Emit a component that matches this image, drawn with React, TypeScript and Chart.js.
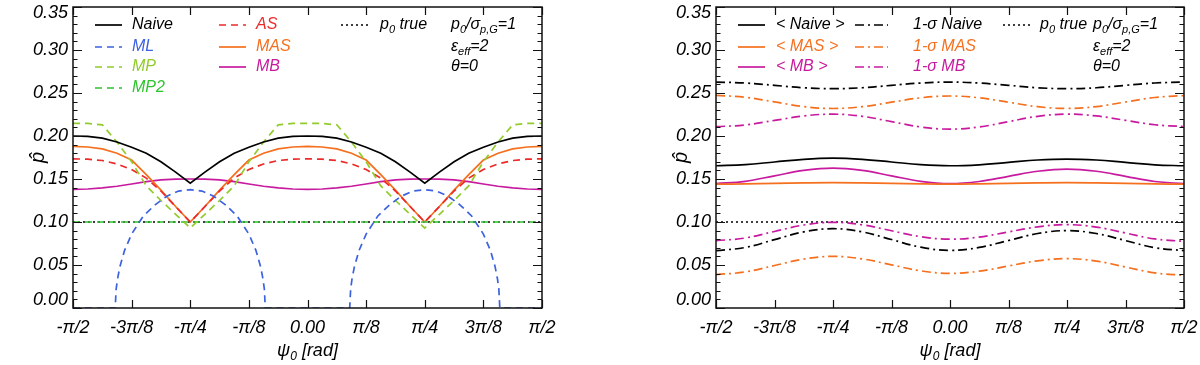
import React, { useEffect, useRef } from "react";
import { Chart, registerables } from "chart.js";
Chart.register(...registerables);

// ---------------- data (x in units of pi) ----------------
const PSI_L = [
  -0.5, -0.46875, -0.4375, -0.40625, -0.375, -0.34375, -0.3125, -0.28125, -0.25,
  -0.21875, -0.1875, -0.15625, -0.125, -0.09375, -0.0625, -0.03125, 0,
  0.03125, 0.0625, 0.09375, 0.125, 0.15625, 0.1875, 0.21875, 0.25,
  0.28125, 0.3125, 0.34375, 0.375, 0.40625, 0.4375, 0.46875, 0.5,
];
const NAIVE_L = [
  0.2, 0.1995, 0.1975, 0.193, 0.187, 0.18, 0.17, 0.158, 0.145,
  0.158, 0.17, 0.18, 0.187, 0.193, 0.1975, 0.1995, 0.2,
  0.1995, 0.1975, 0.193, 0.187, 0.18, 0.17, 0.158, 0.145,
  0.158, 0.17, 0.18, 0.187, 0.193, 0.1975, 0.1995, 0.2,
];
const AS_L = [
  0.1735, 0.173, 0.1715, 0.1675, 0.161, 0.151, 0.136, 0.118, 0.1,
  0.118, 0.136, 0.151, 0.161, 0.1675, 0.1715, 0.173, 0.1735,
  0.173, 0.1715, 0.1675, 0.161, 0.151, 0.136, 0.118, 0.1,
  0.118, 0.136, 0.151, 0.161, 0.1675, 0.1715, 0.173, 0.1735,
];
const MAS_L = [
  0.188, 0.1872, 0.185, 0.18, 0.172, 0.155, 0.137, 0.118, 0.1,
  0.118, 0.137, 0.155, 0.172, 0.18, 0.185, 0.1872, 0.188,
  0.1872, 0.185, 0.18, 0.172, 0.155, 0.137, 0.118, 0.1,
  0.118, 0.137, 0.155, 0.172, 0.18, 0.185, 0.1872, 0.188,
];
const MP_L = [
  0.2146, 0.2146, 0.213, 0.193, 0.17, 0.142, 0.125, 0.109, 0.093,
  0.109, 0.125, 0.142, 0.17, 0.193, 0.213, 0.2146, 0.2146,
  0.2146, 0.213, 0.193, 0.17, 0.142, 0.125, 0.109, 0.093,
  0.109, 0.125, 0.142, 0.17, 0.193, 0.213, 0.2146, 0.2146,
];
const MP2_L = [
  0.1, 0.1, 0.1, 0.1, 0.1, 0.1, 0.1, 0.1, 0.1, 0.1, 0.1, 0.1, 0.1, 0.1, 0.1, 0.1, 0.1,
  0.1, 0.1, 0.1, 0.1, 0.1, 0.1, 0.1, 0.1, 0.1, 0.1, 0.1, 0.1, 0.1, 0.1, 0.1, 0.1,
];
const MB_L = [
  0.138, 0.1384, 0.1396, 0.1416, 0.1442, 0.147, 0.149, 0.1499, 0.15,
  0.1499, 0.149, 0.147, 0.1442, 0.1416, 0.1396, 0.1384, 0.138,
  0.1384, 0.1396, 0.1416, 0.1442, 0.147, 0.149, 0.1499, 0.15,
  0.1499, 0.149, 0.147, 0.1442, 0.1416, 0.1396, 0.1384, 0.138,
];
const ML_PSI = [
  -0.5, -0.41, -0.408, -0.405, -0.4, -0.39, -0.375, -0.35, -0.325, -0.3, -0.275, -0.25,
  -0.225, -0.2, -0.175, -0.15, -0.125, -0.11, -0.1, -0.095, -0.092, -0.09,
  0.09, 0.092, 0.095, 0.1, 0.11, 0.125, 0.15, 0.175, 0.2, 0.225, 0.25,
  0.275, 0.3, 0.325, 0.35, 0.375, 0.39, 0.4, 0.405, 0.408, 0.41, 0.5,
];
const ML_L = [
  0, 0, 0.022, 0.034, 0.048, 0.067, 0.086, 0.107, 0.12, 0.13, 0.136, 0.1376,
  0.136, 0.13, 0.12, 0.107, 0.086, 0.067, 0.048, 0.034, 0.022, 0,
  0, 0.022, 0.034, 0.048, 0.067, 0.086, 0.107, 0.12, 0.13, 0.136, 0.1376,
  0.136, 0.13, 0.12, 0.107, 0.086, 0.067, 0.048, 0.034, 0.022, 0, 0,
];
const P0_TRUE = [0.1, 0.1];
const P0_PSI = [-0.5, 0.5];

const PSI_R = [
  -0.5, -0.4375, -0.375, -0.3125, -0.25, -0.1875, -0.125, -0.0625, 0,
  0.0625, 0.125, 0.1875, 0.25, 0.3125, 0.375, 0.4375, 0.5,
];
const MEAN_NAIVE_R = [
  0.1654, 0.1667, 0.1698, 0.1729, 0.1742, 0.1729, 0.1698, 0.1667, 0.1654,
  0.1665, 0.1693, 0.1721, 0.1732, 0.1721, 0.1693, 0.1665, 0.1654,
];
const MEAN_MAS_R = [
  0.144, 0.1443, 0.1449, 0.1455, 0.1458, 0.1455, 0.1449, 0.1443, 0.144,
  0.1443, 0.1449, 0.1455, 0.1458, 0.1455, 0.1449, 0.1443, 0.144,
];
const MEAN_MB_R = [
  0.1446, 0.1473, 0.1537, 0.16, 0.1627, 0.16, 0.1537, 0.1473, 0.1446,
  0.1471, 0.1531, 0.159, 0.1615, 0.159, 0.1531, 0.1471, 0.1446,
];
const SIG_NAIVE_HI = [
  0.2627, 0.2616, 0.2589, 0.2561, 0.255, 0.2561, 0.2589, 0.2616, 0.2627,
  0.2616, 0.2589, 0.2561, 0.255, 0.2561, 0.2589, 0.2616, 0.2627,
];
const SIG_NAIVE_LO = [
  0.0667, 0.0704, 0.0795, 0.0885, 0.0922, 0.0885, 0.0796, 0.0707, 0.067,
  0.0704, 0.0785, 0.0866, 0.09, 0.0866, 0.0784, 0.0701, 0.0667,
];
const SIG_MAS_HI = [
  0.2473, 0.2451, 0.2397, 0.2342, 0.232, 0.2341, 0.2393, 0.2444, 0.2465,
  0.2444, 0.2393, 0.2341, 0.232, 0.2342, 0.2395, 0.2448, 0.247,
];
const SIG_MAS_LO = [
  0.0388, 0.0419, 0.0494, 0.0569, 0.06, 0.0571, 0.0502, 0.0432, 0.0403,
  0.0428, 0.0489, 0.0549, 0.0574, 0.0546, 0.0477, 0.0408, 0.038,
];
const SIG_MB_HI = [
  0.2108, 0.2129, 0.2181, 0.2233, 0.2254, 0.2229, 0.2167, 0.2105, 0.208,
  0.2105, 0.2167, 0.2229, 0.2254, 0.2233, 0.2182, 0.2131, 0.211,
];
const SIG_MB_LO = [
  0.0783, 0.0814, 0.089, 0.0965, 0.0996, 0.0967, 0.0898, 0.0829, 0.08,
  0.0825, 0.0885, 0.0944, 0.0969, 0.0941, 0.0872, 0.0803, 0.0775,
];

const X_TICK_VALUES = [-0.5, -0.375, -0.25, -0.125, 0, 0.125, 0.25, 0.375, 0.5];
const X_TICK_LABELS = ["-π/2", "-3π/8", "-π/4", "-π/8", "0.00", "π/8", "π/4", "3π/8", "π/2"];
const Y_TICK_VALUES = [0, 0.05, 0.1, 0.15, 0.2, 0.25, 0.3, 0.35];
const Y_TICK_LABELS = ["0.00", "0.05", "0.10", "0.15", "0.20", "0.25", "0.30", "0.35"];
const Y_MINOR_STEP = 0.01;

// ---------------- styles ----------------
const FONT = "'Liberation Sans', Arial, Helvetica, sans-serif";
const BLACK = "#000000";
const BLUE = "#3c62e0";
const YGREEN = "#92cc2c";
const GREEN = "#2ec42e";
const RED = "#ec2a2a";
const ORANGE = "#f5701e";
const MAGENTA = "#c81a9f";
const DASH = [7, 5];
const DASHDOT = [9, 4, 2, 4];
const DOT = [2, 3];
const LW = 1.7;
const TICK_FONT = 18;
const LEGEND_FONT = 16;

type Seg = { t: string; sub?: boolean };

function pts(xs: number[], ys: number[]) {
  return xs.map((x, i) => ({ x, y: ys[i] }));
}

function ds(label: string, xs: number[], ys: number[], color: string, dash: number[], tension = 0) {
  return {
    label,
    data: pts(xs, ys),
    borderColor: color,
    borderWidth: LW,
    borderDash: dash,
    pointRadius: 0,
    fill: false,
    tension,
  };
}

function drawRich(ctx: CanvasRenderingContext2D, segs: Seg[], x: number, y: number, size: number, color: string, align = "left") {
  let w = 0;
  const widths: number[] = [];
  for (const s of segs) {
    ctx.font = `italic ${s.sub ? Math.round(size * 0.68) : size}px ${FONT}`;
    const m = ctx.measureText(s.t).width;
    widths.push(m);
    w += m;
  }
  let cx = align === "center" ? x - w / 2 : align === "right" ? x - w : x;
  ctx.fillStyle = color;
  ctx.textBaseline = "middle";
  ctx.textAlign = "left";
  segs.forEach((s, i) => {
    ctx.font = `italic ${s.sub ? Math.round(size * 0.68) : size}px ${FONT}`;
    ctx.fillText(s.t, cx, s.sub ? y + size * 0.3 : y);
    cx += widths[i];
  });
}

type LegendItem = { label: Seg[]; color: string; dash: number[]; col: number; row: number };
type LegendCfg = {
  items: LegendItem[];
  cols: { lx: number; len: number; tx: number }[];
  rows: number[];
  annX: number;
};

const ANNOTATIONS: Seg[][] = [
  [{ t: "p" }, { t: "0", sub: true }, { t: "/σ" }, { t: "p,G", sub: true }, { t: "=1" }],
  [{ t: "ε" }, { t: "eff", sub: true }, { t: "=2" }],
  [{ t: "θ=0" }],
];

function makeAxesPlugin(legend: LegendCfg) {
  return {
    id: "idlAxes",
    afterDraw(chart: any) {
      const ctx: CanvasRenderingContext2D = chart.ctx;
      const { left, right, top, bottom } = chart.chartArea;
      const xs = chart.scales.x;
      const ys = chart.scales.y;
      ctx.save();
      ctx.setLineDash([]);
      ctx.strokeStyle = "#111";
      ctx.lineWidth = 1.5;
      ctx.strokeRect(left, top, right - left, bottom - top);
      ctx.lineWidth = 1.2;
      const n = Math.round(0.35 / Y_MINOR_STEP);
      for (let i = 0; i <= n; i++) {
        const v = i * Y_MINOR_STEP;
        const py = Math.round(ys.getPixelForValue(v)) + 0.5;
        const major = i % 5 === 0;
        const len = major ? 9 : 4.5;
        ctx.beginPath();
        ctx.moveTo(left, py);
        ctx.lineTo(left + len, py);
        ctx.moveTo(right, py);
        ctx.lineTo(right - len, py);
        ctx.stroke();
      }
      for (const v of X_TICK_VALUES) {
        const px = Math.round(xs.getPixelForValue(v)) + 0.5;
        ctx.beginPath();
        ctx.moveTo(px, bottom);
        ctx.lineTo(px, bottom - 8);
        ctx.moveTo(px, top);
        ctx.lineTo(px, top + 8);
        ctx.stroke();
      }
      Y_TICK_VALUES.forEach((v, i) => {
        let py = ys.getPixelForValue(v);
        py = Math.min(Math.max(py, top + 6), bottom - 8);
        drawRich(ctx, [{ t: Y_TICK_LABELS[i] }], left - 5, py, TICK_FONT, "#000", "right");
      });
      X_TICK_VALUES.forEach((v, i) => {
        const px = xs.getPixelForValue(v);
        drawRich(ctx, [{ t: X_TICK_LABELS[i] }], px, bottom + 20, TICK_FONT, "#000", "center");
      });
      drawRich(ctx, [{ t: "ψ" }, { t: "0", sub: true }, { t: " [rad]" }], (left + right) / 2, bottom + 43, TICK_FONT, "#000", "center");
      ctx.save();
      ctx.translate(left - 35, (top + bottom) / 2);
      ctx.rotate(-Math.PI / 2);
      drawRich(ctx, [{ t: "p\u0302" }], 0, 0, 20, "#000", "center");
      ctx.restore();
      ctx.lineWidth = LW;
      for (const it of legend.items) {
        const c = legend.cols[it.col];
        const y = legend.rows[it.row];
        ctx.strokeStyle = it.color;
        ctx.setLineDash(it.dash);
        ctx.beginPath();
        ctx.moveTo(c.lx, y);
        ctx.lineTo(c.lx + c.len, y);
        ctx.stroke();
        drawRich(ctx, it.label, c.tx, y, LEGEND_FONT, it.color, "left");
      }
      ctx.setLineDash([]);
      ANNOTATIONS.forEach((a, i) => drawRich(ctx, a, legend.annX, legend.rows[i], LEGEND_FONT, "#000", "left"));
      ctx.restore();
    },
  };
}

const LEFT_LEGEND: LegendCfg = {
  items: [
    { label: [{ t: "Naive" }], color: BLACK, dash: [], col: 0, row: 0 },
    { label: [{ t: "ML" }], color: BLUE, dash: DASH, col: 0, row: 1 },
    { label: [{ t: "MP" }], color: YGREEN, dash: DASH, col: 0, row: 2 },
    { label: [{ t: "MP2" }], color: GREEN, dash: DASH, col: 0, row: 3 },
    { label: [{ t: "AS" }], color: RED, dash: DASH, col: 1, row: 0 },
    { label: [{ t: "MAS" }], color: ORANGE, dash: [], col: 1, row: 1 },
    { label: [{ t: "MB" }], color: MAGENTA, dash: [], col: 1, row: 2 },
    { label: [{ t: "p" }, { t: "0", sub: true }, { t: " true" }], color: BLACK, dash: DOT, col: 2, row: 0 },
  ],
  cols: [
    { lx: 95, len: 27, tx: 132 },
    { lx: 219, len: 27, tx: 256 },
    { lx: 341, len: 27, tx: 380 },
  ],
  rows: [25, 47, 67, 88],
  annX: 451,
};

const RIGHT_LEGEND: LegendCfg = {
  items: [
    { label: [{ t: "< Naive >" }], color: BLACK, dash: [], col: 0, row: 0 },
    { label: [{ t: "< MAS >" }], color: ORANGE, dash: [], col: 0, row: 1 },
    { label: [{ t: "< MB >" }], color: MAGENTA, dash: [], col: 0, row: 2 },
    { label: [{ t: "1-σ Naive" }], color: BLACK, dash: DASHDOT, col: 1, row: 0 },
    { label: [{ t: "1-σ MAS" }], color: ORANGE, dash: DASHDOT, col: 1, row: 1 },
    { label: [{ t: "1-σ MB" }], color: MAGENTA, dash: DASHDOT, col: 1, row: 2 },
    { label: [{ t: "p" }, { t: "0", sub: true }, { t: " true" }], color: BLACK, dash: DOT, col: 2, row: 0 },
  ],
  cols: [
    { lx: 138, len: 27, tx: 176 },
    { lx: 255, len: 33, tx: 313 },
    { lx: 403, len: 29, tx: 440 },
  ],
  rows: [25, 47, 67],
  annX: 493,
};

function Panel(props: { left: number; datasets: any[]; legend: LegendCfg; padding: any }) {
  const ref = useRef<HTMLCanvasElement>(null);
  useEffect(() => {
    const chart = new Chart(ref.current as HTMLCanvasElement, {
      type: "line",
      data: { datasets: props.datasets },
      options: {
        animation: false,
        responsive: false,
        devicePixelRatio: 1,
        layout: { padding: props.padding, autoPadding: false } as any,
        plugins: { legend: { display: false }, tooltip: { enabled: false } },
        elements: { point: { radius: 0 } },
        scales: {
          x: { type: "linear", min: -0.5, max: 0.5, display: false },
          y: { type: "linear", min: 0, max: 0.35, display: false },
        },
      },
      plugins: [makeAxesPlugin(props.legend)],
    } as any);
    return () => chart.destroy();
  }, []);
  return (
    <div style={{ position: "absolute", left: props.left, top: 0, width: 600, height: 365 }}>
      <canvas ref={ref} width={600} height={365} style={{ width: 600, height: 365, display: "block" }} />
    </div>
  );
}

export default function App() {
  const leftSets = [
    ds("Naive", PSI_L, NAIVE_L, BLACK, []),
    ds("ML", ML_PSI, ML_L, BLUE, DASH),
    ds("MP", PSI_L, MP_L, YGREEN, DASH),
    ds("MP2", PSI_L, MP2_L, GREEN, DASH),
    ds("AS", PSI_L, AS_L, RED, DASH),
    ds("MAS", PSI_L, MAS_L, ORANGE, []),
    ds("MB", PSI_L, MB_L, MAGENTA, []),
    ds("p0 true", P0_PSI, P0_TRUE, BLACK, DOT),
  ];
  const T = 0.4;
  const rightSets = [
    ds("< Naive >", PSI_R, MEAN_NAIVE_R, BLACK, [], T),
    ds("< MAS >", PSI_R, MEAN_MAS_R, ORANGE, [], T),
    ds("< MB >", PSI_R, MEAN_MB_R, MAGENTA, [], T),
    ds("1-σ Naive", PSI_R, SIG_NAIVE_HI, BLACK, DASHDOT, T),
    ds("1-σ Naive low", PSI_R, SIG_NAIVE_LO, BLACK, DASHDOT, T),
    ds("1-σ MAS", PSI_R, SIG_MAS_HI, ORANGE, DASHDOT, T),
    ds("1-σ MAS low", PSI_R, SIG_MAS_LO, ORANGE, DASHDOT, T),
    ds("1-σ MB", PSI_R, SIG_MB_HI, MAGENTA, DASHDOT, T),
    ds("1-σ MB low", PSI_R, SIG_MB_LO, MAGENTA, DASHDOT, T),
    ds("p0 true", P0_PSI, P0_TRUE, BLACK, DOT),
  ];
  return (
    <div style={{ position: "fixed", left: 0, top: 0, width: 1200, height: 365, background: "#fff" }}>
      <Panel left={0} datasets={leftSets} legend={LEFT_LEGEND} padding={{ left: 73, right: 58, top: 7, bottom: 57 }} />
      <Panel left={600} datasets={rightSets} legend={RIGHT_LEGEND} padding={{ left: 116, right: 16, top: 7, bottom: 57 }} />
    </div>
  );
}
